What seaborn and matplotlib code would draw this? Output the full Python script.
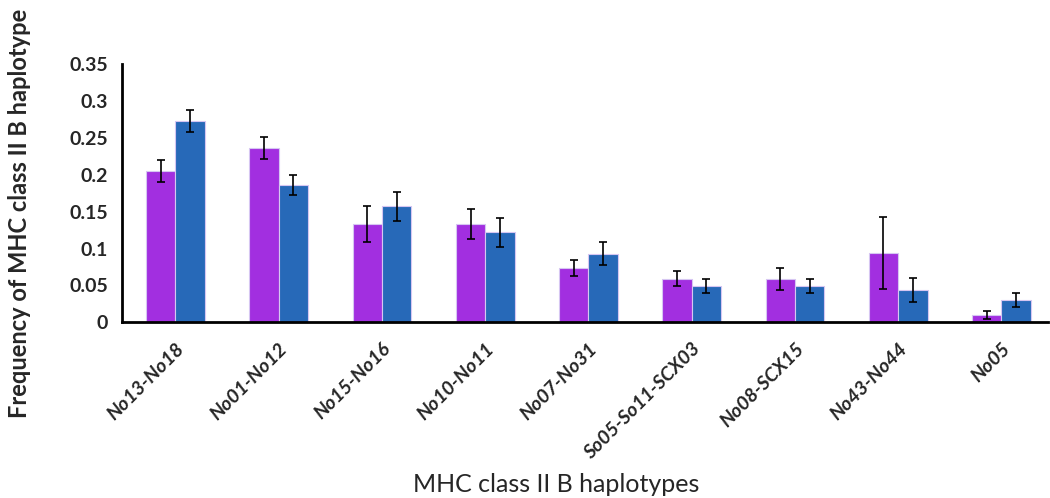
import numpy as np
import pandas as pd
import seaborn as sns
import matplotlib.pyplot as plt

# haplotype categories and the two series (frequency +/- error)
haplotypes = ["No13-No18", "No01-No12", "No15-No16", "No10-No11", "No07-No31",
              "So05-So11-SCX03", "No08-SCX15", "No43-No44", "No05"]
freq_a = [0.205, 0.236, 0.133, 0.133, 0.074, 0.059, 0.059, 0.094, 0.010]
err_a = [0.015, 0.015, 0.024, 0.020, 0.011, 0.010, 0.015, 0.049, 0.005]
freq_b = [0.273, 0.186, 0.157, 0.122, 0.093, 0.049, 0.049, 0.044, 0.030]
err_b = [0.015, 0.014, 0.020, 0.020, 0.016, 0.010, 0.010, 0.016, 0.010]
series = ["Series 1", "Series 2"]
yticks = [0, 0.05, 0.1, 0.15, 0.2, 0.25, 0.3, 0.35]
ytick_labels = ["0", "0.05", "0.1", "0.15", "0.2", "0.25", "0.3", "0.35"]

df = pd.DataFrame({
    "haplotype": haplotypes * 2,
    "freq": freq_a + freq_b,
    "err": err_a + err_b,
    "series": [series[0]] * len(haplotypes) + [series[1]] * len(haplotypes),
})

sns.set_style("white")
plt.rcParams["font.family"] = ["Lato", "DejaVu Sans"]

fig = plt.figure(figsize=(10.5, 4.98), dpi=100)
ax = fig.add_axes([0.116, 0.353, 0.882, 0.518])

sns.barplot(data=df, x="haplotype", y="freq", hue="series", order=haplotypes,
            hue_order=series, palette=["#A22FE0", "#2769B8"], saturation=1,
            width=0.57, gap=0, errorbar=None, edgecolor="#D6C6F2",
            linewidth=0.8, legend=False, ax=ax)

# error bars on each bar, positions taken from the drawn patches
for i, s in enumerate(series):
    sub = df[df["series"] == s].set_index("haplotype").loc[haplotypes]
    cont = ax.containers[i]
    xs = [p.get_x() + p.get_width() / 2 for p in cont.patches]
    ax.errorbar(xs, sub["freq"], yerr=sub["err"], fmt="none", ecolor="black",
                elinewidth=1.2, capsize=3, capthick=1.2, zorder=5)

ax.set_xlim(-0.52, 8.45)
ax.set_ylim(0, 0.35)
ax.set_yticks(yticks)
ax.set_yticklabels(ytick_labels, fontsize=14, fontweight="bold")
ax.set_xticks(range(len(haplotypes)))
ax.set_xticklabels(haplotypes, rotation=45, ha="right", rotation_mode="anchor",
                   fontsize=14, fontweight="bold", fontstyle="italic")
ax.tick_params(axis="y", direction="out", length=5, width=1.5, color="black", pad=5)
ax.tick_params(axis="x", length=0, pad=13)

sns.despine(ax=ax)
for side in ["left", "bottom"]:
    ax.spines[side].set_linewidth(2)
    ax.spines[side].set_color("black")

ax.set_xlabel("MHC class II B haplotypes", fontsize=18)
ax.xaxis.set_label_coords(0.469, -0.585)
ax.set_ylabel("Frequency of MHC class II B haplotype", fontsize=17, fontweight="bold")
ax.yaxis.set_label_coords(-0.098, 0.42)

fig.savefig("out.png", dpi=100)
